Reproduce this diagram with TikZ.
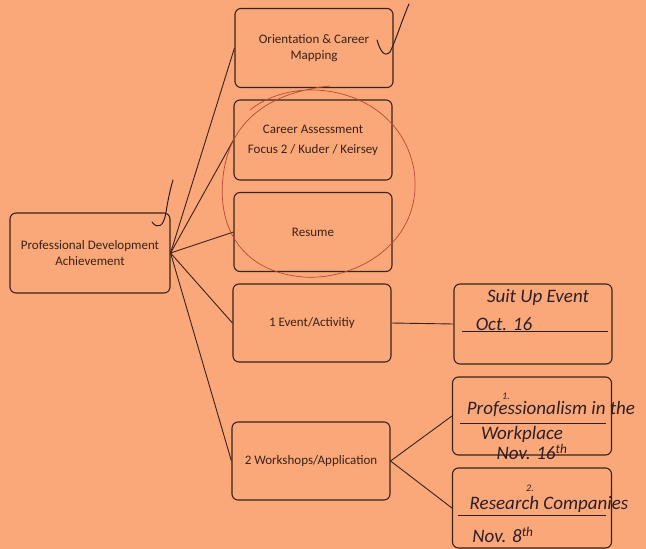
\documentclass[tikz,border=0pt]{standalone}
\usepackage{fontspec}
\setmainfont{Carlito}
\definecolor{paper}{RGB}{250,168,122}
\definecolor{ink}{RGB}{58,34,22}
\definecolor{pen}{RGB}{45,30,38}
\definecolor{redpen}{RGB}{185,72,52}

\begin{document}
\begin{tikzpicture}[x=1pt,y=-1pt,
	box/.style={draw=ink,line width=1.1pt,rounded corners=6pt,minimum width=158pt,minimum height=79pt,align=center,text=ink,font=\fontsize{13}{16}\selectfont},
	hand/.style={text=pen,inner sep=0pt,font=\itshape\fontsize{19}{20}\selectfont},
	link/.style={draw=ink,line width=0.9pt}]
			\fill[paper] (0,0) rectangle (646,549);
			\node[box,minimum width=160pt,minimum height=80pt] (pda) at (90,253) {Professional Development\\Achievement};
			\node[box] (orient) at (314,48) {Orientation \& Career\\Mapping};
			\node[box,minimum height=80pt] (assess) at (313,140) {Career Assessment\\[4pt]Focus 2 / Kuder / Keirsey};
			\node[box] (resume) at (313,232) {Resume};
			\node[box,minimum height=78pt] (event) at (312,323) {1 Event/Activitiy};
			\node[box,minimum height=78pt] (shops) at (311,461) {2 Workshops/Application};
			\node[box,minimum height=80pt] (suit) at (533,324) {};
			\node[box,minimum width=159pt,minimum height=78pt] (prof) at (532,416) {};
			\node[box,minimum width=159pt,minimum height=80pt] (research) at (532,508) {};
			\draw[link] (pda.east) -- (orient.west);
			\draw[link] (pda.east) -- (assess.west);
			\draw[link] (pda.east) -- (resume.west);
			\draw[link] (pda.east) -- (event.west);
			\draw[link] (pda.east) -- (shops.west);
			\draw[link] (event.east) -- (suit.west);
			\draw[link] (shops.east) -- (prof.west);
			\draw[link] (shops.east) -- (research.west);
			\node[hand] (suittext) at (538,297) {Suit Up Event};
			\node[hand] (octtext) at (504,324) {Oct. 16};
			\draw[pen,line width=0.8pt] (462,331) -- (608,331);
			\node[hand,font=\itshape\fontsize{10}{12}\selectfont] (one) at (506,396) {1.};
			\node[hand] (proftext) at (551,409) {Professionalism in the};
			\draw[pen,line width=0.8pt] (460,423) -- (606,423);
			\node[hand] (worktext) at (522,434) {Workplace};
			\node[hand] (novtext) at (532,452) {Nov. 16\textsuperscript{th}};
			\node[hand,font=\itshape\fontsize{10}{12}\selectfont] (two) at (530,488) {2.};
			\node[hand] (restext) at (549,504) {Research Companies};
			\draw[pen,line width=0.8pt] (458,515) -- (606,515);
			\node[hand] (nov8text) at (503,535) {Nov. 8\textsuperscript{th}};
			\draw[redpen,line width=0.7pt] (250,110) .. controls (300,70) and (400,90) .. (414,170) .. controls (425,245) and (350,285) .. (295,276) .. controls (240,268) and (215,225) .. (224,170) .. controls (232,120) and (270,92) .. (330,86);
			\draw[pen,line width=1pt,line cap=round] (377,40) .. controls (380,50) and (384,58) .. (390,52) .. controls (396,40) and (402,20) .. (409,4);
			\draw[pen,line width=1pt,line cap=round] (152,222) .. controls (158,230) and (164,226) .. (166,212) .. controls (168,200) and (170,190) .. (173,180);
\end{tikzpicture}
\end{document}
